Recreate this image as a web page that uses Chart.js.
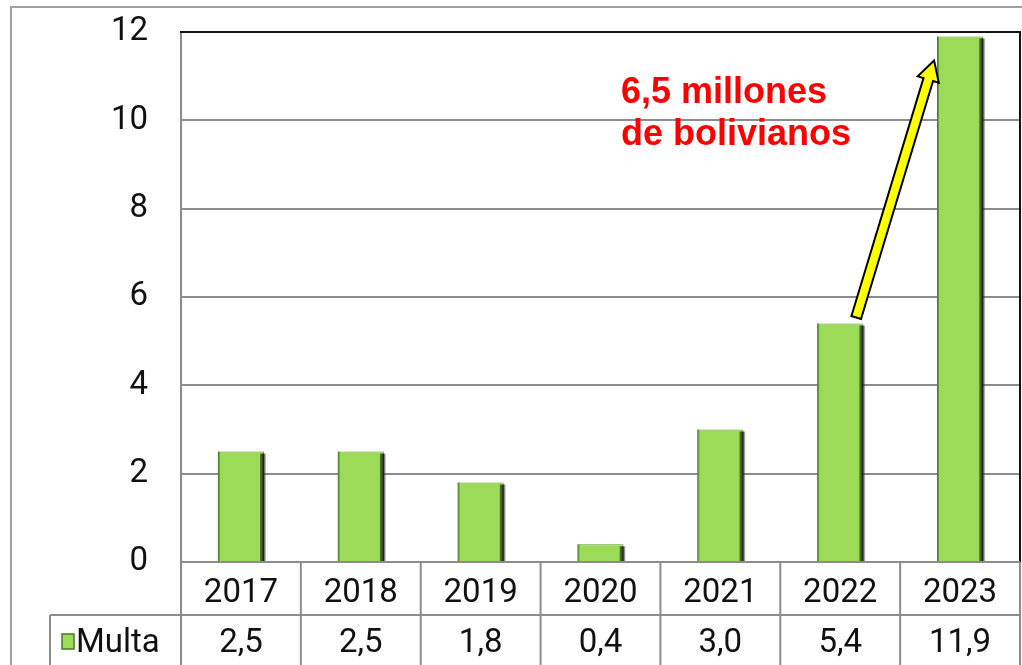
<!DOCTYPE html>
<html>
<head>
<meta charset="utf-8">
<script src="https://cdn.jsdelivr.net/npm/chart.js@4.4.0/dist/chart.umd.min.js"></script>
<style>
html,body{margin:0;padding:0;background:#fff;}
canvas{display:block;}
</style>
</head>
<body>
<canvas id="c" width="1022" height="665"></canvas>
<script>
const categories = ['2017','2018','2019','2020','2021','2022','2023'];
const multa = [2.5, 2.5, 1.8, 0.4, 3.0, 5.4, 11.9];
const multaLabels = ['2,5','2,5','1,8','0,4','3,0','5,4','11,9'];
const seriesName = 'Multa';
const yTicks = [0, 2, 4, 6, 8, 10, 12];
const noteLines = ['6,5 millones', 'de bolivianos'];

const GREEN = '#9BDB58';
const GRID = '#8c8c8c';
const FONT = 'Roboto, "Liberation Sans", sans-serif';

const decor = {
  id: 'decor',
  beforeDraw(chart) {
    const ctx = chart.ctx;
    ctx.save();
    ctx.fillStyle = '#fff';
    ctx.fillRect(0, 0, chart.width, chart.height);
    ctx.strokeStyle = '#a0a0a0';
    ctx.lineWidth = 2;
    ctx.beginPath();
    ctx.moveTo(11, chart.height);
    ctx.lineTo(11, 7);
    ctx.lineTo(chart.width, 7);
    ctx.stroke();
    ctx.restore();
  },
  afterDatasetsDraw(chart) {
    const ctx = chart.ctx;
    const meta = chart.getDatasetMeta(0);
    ctx.save();
    meta.data.forEach(el => {
      const p = el.getProps(['x', 'y', 'base', 'width'], true);
      const r = p.x + p.width / 2;
      const g = ctx.createLinearGradient(r - 4, 0, r + 2, 0);
      g.addColorStop(0, 'rgba(40,60,20,0.55)');
      g.addColorStop(0.6, 'rgba(20,20,20,0.9)');
      g.addColorStop(1, 'rgba(60,60,60,0.2)');
      ctx.fillStyle = g;
      ctx.fillRect(r - 4, p.y + 2, 6, p.base - p.y - 2);
      ctx.fillStyle = 'rgba(60,110,30,0.6)';
      ctx.fillRect(p.x - p.width / 2, p.y, 2, p.base - p.y);
    });
    ctx.restore();
  },
  afterDraw(chart) {
    const ctx = chart.ctx;
    const a = chart.chartArea;
    const xs = chart.scales.x, ys = chart.scales.y;
    const n = categories.length;
    const colW = (a.right - a.left) / n;
    ctx.save();
    ctx.lineWidth = 2;
    ctx.strokeStyle = GRID;
    ctx.beginPath();
    ctx.moveTo(a.left, a.top); ctx.lineTo(a.left, a.bottom);
    ctx.stroke();
    ctx.strokeStyle = '#111';
    ctx.beginPath();
    ctx.moveTo(a.left - 1, a.top); ctx.lineTo(a.right, a.top); ctx.lineTo(a.right, a.bottom);
    ctx.stroke();
    ctx.strokeStyle = GRID;
    ctx.beginPath();
    ctx.moveTo(a.left, a.bottom); ctx.lineTo(a.right, a.bottom);
    ctx.stroke();

    const row1Bottom = a.bottom + 53;
    const tableLeft = 50;
    ctx.lineWidth = 2;
    ctx.strokeStyle = GRID;
    ctx.beginPath();
    for (let i = 0; i <= n; i++) {
      const x = a.left + i * colW;
      ctx.moveTo(x, a.bottom); ctx.lineTo(x, chart.height);
    }
    ctx.moveTo(tableLeft, row1Bottom); ctx.lineTo(a.right, row1Bottom);
    ctx.moveTo(tableLeft, row1Bottom); ctx.lineTo(tableLeft, chart.height);
    ctx.stroke();

    ctx.fillStyle = '#111';
    ctx.font = '33px ' + FONT;
    ctx.textAlign = 'center';
    ctx.textBaseline = 'alphabetic';
    categories.forEach((c, i) => {
      const cx = xs.getPixelForValue(i);
      ctx.fillText(c, cx, a.bottom + 40);
      ctx.fillText(multaLabels[i], cx, row1Bottom + 37);
    });
    ctx.fillStyle = GREEN;
    ctx.fillRect(62, row1Bottom + 19, 12, 15);
    ctx.strokeStyle = '#4a7a22';
    ctx.lineWidth = 1.5;
    ctx.strokeRect(62, row1Bottom + 19, 12, 15);
    ctx.fillStyle = '#111';
    ctx.textAlign = 'left';
    ctx.fillText(seriesName, 76, row1Bottom + 37);

    ctx.fillStyle = '#ff0000';
    ctx.font = 'bold 36px "Liberation Sans", Arial, sans-serif';
    ctx.textAlign = 'left';
    ctx.fillText(noteLines[0], 621, 103);
    ctx.fillText(noteLines[1], 621, 145);

    const x0 = xs.getPixelForValue(5) + 16, y0 = ys.getPixelForValue(multa[5]) - 6;
    const x1 = xs.getPixelForValue(6) - 26, y1 = ys.getPixelForValue(multa[6]) + 24;
    const ang = Math.atan2(y1 - y0, x1 - x0);
    const len = Math.hypot(x1 - x0, y1 - y0);
    const sw = 5, hw = 11, hl = 20;
    ctx.translate(x0, y0);
    ctx.rotate(ang);
    ctx.beginPath();
    ctx.moveTo(0, -sw);
    ctx.lineTo(len - hl, -sw);
    ctx.lineTo(len - hl, -hw);
    ctx.lineTo(len, 0);
    ctx.lineTo(len - hl, hw);
    ctx.lineTo(len - hl, sw);
    ctx.lineTo(0, sw);
    ctx.closePath();
    ctx.fillStyle = '#ffff00';
    ctx.fill();
    ctx.strokeStyle = '#000';
    ctx.lineWidth = 2;
    ctx.stroke();
    ctx.restore();
  }
};

new Chart(document.getElementById('c'), {
  type: 'bar',
  data: {
    labels: categories,
    datasets: [{
      label: seriesName,
      data: multa,
      backgroundColor: GREEN,
      borderColor: '#5f9a30',
      borderWidth: 1,
      categoryPercentage: 1,
      barPercentage: 0.385
    }]
  },
  options: {
    responsive: false,
    animation: false,
    layout: { padding: { top: 32, bottom: 103, left: 0, right: 2 } },
    plugins: { legend: { display: false }, tooltip: { enabled: false } },
    scales: {
      x: { display: false },
      y: {
        min: 0, max: 12,
        afterBuildTicks(s) { s.ticks = yTicks.map(v => ({ value: v })); },
        afterFit(s) { s.width = 181; s.paddingTop = 0; s.paddingBottom = 0; },
        border: { display: false },
        grid: { color: GRID, lineWidth: 2, drawTicks: false },
        ticks: {
          padding: 33,
          color: '#111',
          font: { family: FONT, size: 33 }
        }
      }
    }
  },
  plugins: [decor]
});
</script>
</body>
</html>
